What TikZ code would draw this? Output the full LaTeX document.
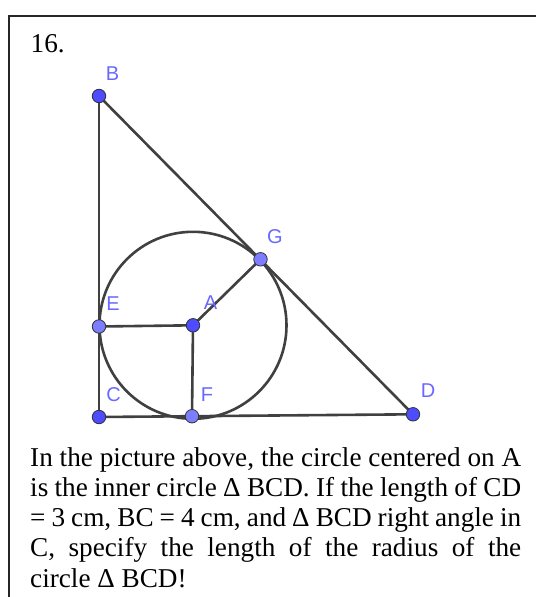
\documentclass[tikz,border=0pt]{standalone}
\usepackage{fontspec}
\setmainfont{Liberation Serif}
\newfontfamily\lblfont{Liberation Sans}
\definecolor{segcol}{RGB}{64,64,64}
\definecolor{freept}{RGB}{77,77,255}
\definecolor{pathpt}{RGB}{125,125,255}
\definecolor{lblcol}{RGB}{105,105,255}
\begin{document}
\begin{tikzpicture}[x=1pt,y=-1pt,
  seg/.style={draw=segcol,line width=2.6pt},
  ptfree/.style={circle,fill=freept,draw=black!80,line width=0.8pt,minimum size=13.5pt,inner sep=0pt},
  ptpath/.style={circle,fill=pathpt,draw=black!80,line width=0.8pt,minimum size=13.5pt,inner sep=0pt},
  lbl/.style={text=lblcol,font=\lblfont\fontsize{20}{20}\selectfont,inner sep=0pt},
  frame/.style={draw=black!85,line width=2pt}]
\useasboundingbox (0,0) rectangle (536,597);
% frame
\coordinate (f1) at (536,16);
\coordinate (f2) at (9,16);
\coordinate (f3) at (9,597);
\draw[frame] (f1) -- (f2) -- (f3);
\node[anchor=base west,inner sep=0pt,font=\fontsize{27.2}{27.2}\selectfont] (num) at (30.5,52) {16.};
% point coordinates
\coordinate (pB) at (99,96);
\coordinate (pC) at (99,417);
\coordinate (pD) at (413,414.3);
\coordinate (pA) at (193,325.3);
\coordinate (pE) at (99,326.5);
\coordinate (pF) at (192,416.2);
\coordinate (pG) at (260.5,259.3);
% segments
\draw[seg] (pB) -- (pC);
\draw[seg] (pB) -- (pD);
\draw[seg] (pC) -- (pD);
\draw[seg] (pE) -- (pA);
\draw[seg] (pA) -- (pF);
\draw[seg] (pA) -- (pG);
\draw[seg] (pA) circle[radius=93.5];
% points
\node[ptfree] (B) at (pB) {};
\node[ptfree] (C) at (pC) {};
\node[ptfree] (D) at (pD) {};
\node[ptfree] (A) at (pA) {};
\node[ptpath] (E) at (pE) {};
\node[ptpath] (F) at (pF) {};
\node[ptpath] (G) at (pG) {};
% labels
\node[lbl] (lB) at (112.5,74) {B};
\node[lbl] (lG) at (275,236.5) {G};
\node[lbl] (lE) at (113,304) {E};
\node[lbl] (lA) at (210.5,302.5) {A};
\node[lbl] (lC) at (113.5,395) {C};
\node[lbl] (lF) at (207,395) {F};
\node[lbl] (lD) at (428,391) {D};
% text
\node[anchor=north west,inner sep=0pt,text width=491pt,align=justify,
      font=\fontsize{27.2}{30.2}\selectfont] (txt) at (30,447.2)
  {In the picture above, the circle centered on A\linebreak
   is the inner circle Δ BCD. If the length of CD\linebreak
   = 3 cm, BC = 4 cm, and Δ BCD right angle in\linebreak
   C, specify the length of the radius of the\linebreak
   circle Δ BCD!};
\end{tikzpicture}
\end{document}
